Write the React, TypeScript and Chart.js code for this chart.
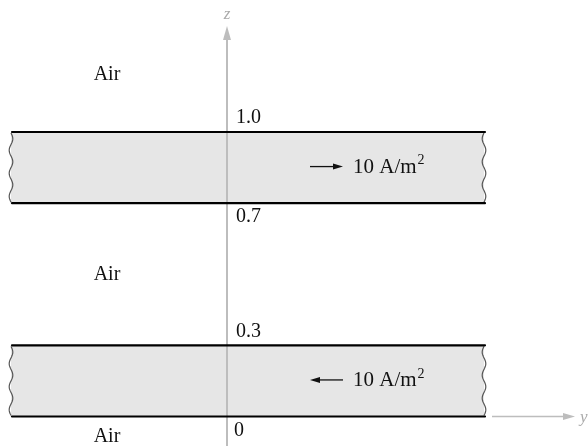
import React, { useEffect, useRef } from "react";
import { Chart, registerables } from "chart.js";

Chart.register(...registerables);

// Boundary positions of the two conducting slabs (diagram coordinate along z)
const boundaryPositions = [0, 0.25, 0.75, 1.0];
// Labels shown at those boundaries (physical z values)
const boundaryLabels = ["0", "0.3", "0.7", "1.0"];
// Slabs: pairs of boundary indexes [bottom, top]
const slabs = [
  [0, 1],
  [2, 3],
];
// Surface current density in each slab (A/m^2) and its direction along y
const currentMagnitudes = [10, 10];
const currentDirections = [-1, 1];
// Region names and their diagram z positions
const regionNames = ["Air", "Air", "Air"];
const regionPositions = [1.2, 0.5, -0.072];

const X_MIN = -227;
const X_MAX = 361;
const Y_MIN = -0.1037;
const Y_MAX = 1.464;
const SLAB_LEFT = -216;
const SLAB_RIGHT = 257;

const SERIF = '"Liberation Serif", "Times New Roman", serif';

function wavyEdge(ctx: CanvasRenderingContext2D, x: number, yTop: number, yBot: number, phase: number) {
  const h = yBot - yTop;
  const n = 3;
  const amp = 1.8;
  ctx.moveTo(x + amp * Math.sin(phase), yTop);
  for (let i = 1; i <= 60; i++) {
    const t = i / 60;
    ctx.lineTo(x + amp * Math.sin(phase + t * n * 2 * Math.PI), yTop + t * h);
  }
}

const diagramPlugin = {
  id: "diagram",
  beforeDatasetsDraw(chart: any) {
    const ctx: CanvasRenderingContext2D = chart.ctx;
    const xs = chart.scales.x;
    const ys = chart.scales.y;
    const xL = xs.getPixelForValue(SLAB_LEFT);
    const xR = xs.getPixelForValue(SLAB_RIGHT);
    ctx.save();
    // slab fills
    slabs.forEach(([b, t]) => {
      const yTop = ys.getPixelForValue(boundaryPositions[t]);
      const yBot = ys.getPixelForValue(boundaryPositions[b]);
      ctx.beginPath();
      ctx.fillStyle = "#e6e6e6";
      ctx.rect(xL, yTop, xR - xL, yBot - yTop);
      ctx.fill();
      ctx.strokeStyle = "#555";
      ctx.lineWidth = 1.2;
      ctx.beginPath();
      wavyEdge(ctx, xL, yTop + 1, yBot - 1, 0);
      ctx.stroke();
      ctx.beginPath();
      wavyEdge(ctx, xR, yTop + 1, yBot - 1, Math.PI);
      ctx.stroke();
    });
    // z axis
    const x0 = xs.getPixelForValue(0);
    ctx.strokeStyle = "#bdbdbd";
    ctx.fillStyle = "#bdbdbd";
    ctx.lineWidth = 2;
    ctx.beginPath();
    ctx.moveTo(x0, chart.height);
    ctx.lineTo(x0, 38);
    ctx.stroke();
    ctx.beginPath();
    ctx.moveTo(x0, 26);
    ctx.lineTo(x0 - 4, 40);
    ctx.lineTo(x0 + 4, 40);
    ctx.closePath();
    ctx.fill();
    ctx.font = `italic 17px ${SERIF}`;
    ctx.fillStyle = "#aaa";
    ctx.textAlign = "center";
    ctx.textBaseline = "alphabetic";
    ctx.fillText("z", x0, 19);
    ctx.restore();
  },
  afterDatasetsDraw(chart: any) {
    const ctx: CanvasRenderingContext2D = chart.ctx;
    const xs = chart.scales.x;
    const ys = chart.scales.y;
    const x0 = xs.getPixelForValue(0);
    ctx.save();
    // y axis arrow at z = 0
    const yAxisPx = ys.getPixelForValue(boundaryPositions[0]);
    const ax1 = xs.getPixelForValue(265);
    const ax2 = xs.getPixelForValue(348);
    ctx.strokeStyle = "#bdbdbd";
    ctx.fillStyle = "#bdbdbd";
    ctx.lineWidth = 1.5;
    ctx.beginPath();
    ctx.moveTo(ax1, yAxisPx);
    ctx.lineTo(ax2 - 10, yAxisPx);
    ctx.stroke();
    ctx.beginPath();
    ctx.moveTo(ax2, yAxisPx);
    ctx.lineTo(ax2 - 12, yAxisPx - 3.5);
    ctx.lineTo(ax2 - 12, yAxisPx + 3.5);
    ctx.closePath();
    ctx.fill();
    ctx.font = `italic 17px ${SERIF}`;
    ctx.fillStyle = "#aaa";
    ctx.textAlign = "left";
    ctx.textBaseline = "alphabetic";
    ctx.fillText("y", ax2 + 5, yAxisPx + 6);

    // boundary labels
    ctx.fillStyle = "#111";
    ctx.font = `20px ${SERIF}`;
    ctx.textAlign = "left";
    ctx.textBaseline = "middle";
    boundaryLabels.forEach((lab, i) => {
      const py = ys.getPixelForValue(boundaryPositions[i]);
      const isTop = slabs.some(([, t]) => t === i);
      const dy = isTop ? -14 : 14;
      ctx.fillText(lab, x0 + (lab === "0" ? 7 : 9), py + dy);
    });

    // region names
    ctx.textAlign = "center";
    regionNames.forEach((name, i) => {
      ctx.fillText(name, xs.getPixelForValue(-120), ys.getPixelForValue(regionPositions[i]));
    });

    // current arrows
    slabs.forEach(([b, t], i) => {
      const mid = (ys.getPixelForValue(boundaryPositions[b]) + ys.getPixelForValue(boundaryPositions[t])) / 2;
      const a1 = xs.getPixelForValue(83);
      const a2 = xs.getPixelForValue(116);
      const dir = currentDirections[i];
      const tail = dir > 0 ? a1 : a2;
      const tip = dir > 0 ? a2 : a1;
      const ay = mid - 1;
      ctx.strokeStyle = "#111";
      ctx.fillStyle = "#111";
      ctx.lineWidth = 1.3;
      ctx.beginPath();
      ctx.moveTo(tail, ay);
      ctx.lineTo(tip - dir * 6, ay);
      ctx.stroke();
      ctx.beginPath();
      ctx.moveTo(tip, ay);
      ctx.lineTo(tip - dir * 10, ay - 3);
      ctx.lineTo(tip - dir * 10, ay + 3);
      ctx.closePath();
      ctx.fill();
      ctx.font = `21px ${SERIF}`;
      ctx.textAlign = "left";
      ctx.textBaseline = "middle";
      const txt = `${currentMagnitudes[i]} A/m`;
      const tx = xs.getPixelForValue(126);
      ctx.fillText(txt, tx, mid);
      const w = ctx.measureText(txt).width;
      ctx.font = `14px ${SERIF}`;
      ctx.fillText("2", tx + w + 1, mid - 7);
    });
    ctx.restore();
  },
};

export default function App() {
  const ref = useRef<HTMLCanvasElement>(null);
  useEffect(() => {
    if (!ref.current) return;
    const chart = new Chart(ref.current, {
      type: "line",
      data: {
        datasets: boundaryPositions.map((p) => ({
          data: [
            { x: SLAB_LEFT + 1, y: p },
            { x: SLAB_RIGHT + 1, y: p },
          ],
          borderColor: "#000",
          borderWidth: 2.2,
          pointRadius: 0,
          borderCapStyle: "round" as const,
        })),
      },
      options: {
        responsive: false,
        maintainAspectRatio: false,
        animation: false,
        devicePixelRatio: 1,
        layout: { padding: 0 },
        scales: {
          x: { type: "linear", min: X_MIN, max: X_MAX, display: false },
          y: { type: "linear", min: Y_MIN, max: Y_MAX, display: false },
        },
        plugins: { legend: { display: false }, tooltip: { enabled: false } },
      },
      plugins: [diagramPlugin],
    });
    return () => chart.destroy();
  }, []);
  return (
    <div style={{ position: "absolute", left: 0, top: 0, width: 588, height: 446, background: "#fff" }}>
      <canvas ref={ref} width={588} height={446} style={{ display: "block" }} />
    </div>
  );
}
